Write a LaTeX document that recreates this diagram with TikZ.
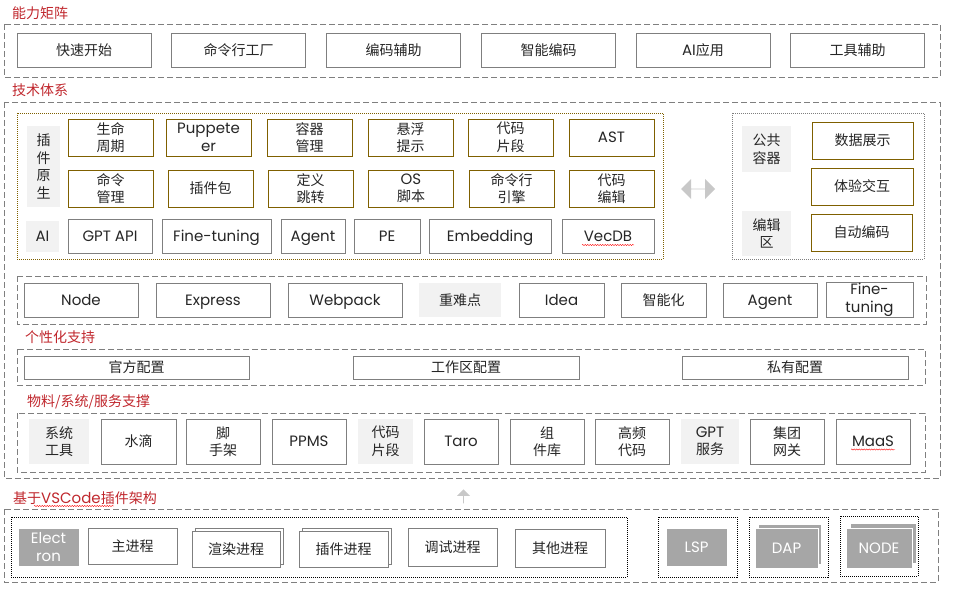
\documentclass[tikz,border=0pt]{standalone}
\usepackage{fontspec}
\setmainfont{Noto Sans CJK SC}
\newfontfamily\enfont{Poppins}
\usetikzlibrary{shapes.arrows,shadows,decorations.pathmorphing}
\definecolor{linegray}{HTML}{7F7F7F}
\definecolor{olivebr}{HTML}{7F6000}
\definecolor{taggray}{HTML}{F2F2F2}
\definecolor{darkfill}{HTML}{A6A6A6}
\definecolor{arrowgray}{HTML}{C8C8C8}
\definecolor{titlered}{HTML}{C0272D}
\definecolor{textblack}{HTML}{262626}
\newcommand\boxsize{\fontsize{14}{17.5}\selectfont}
\newcommand\ensize{\fontsize{15}{17.5}\selectfont}
\newcommand\en[1]{{\enfont\ensize #1}}
\tikzset{
  secframe/.style={draw=linegray,line width=0.8pt,dash pattern=on 6pt off 3pt},
  olframe/.style={draw=olivebr,line width=0.6pt,dash pattern=on 1pt off 1pt},
  gyframe/.style={draw=linegray,line width=0.6pt,dash pattern=on 1pt off 1pt},
  bkframe/.style={draw=black,line width=0.6pt,dash pattern=on 1pt off 1pt},
  sectitle/.style={anchor=west,inner sep=0pt,text=titlered,font=\boxsize},
  techbox/.style={draw=linegray,line width=0.8pt,fill=white,inner sep=1pt,
    align=center,text=textblack,font=\boxsize},
  en/.style={font=\enfont\ensize},
  enone/.style={en,text height=10.5pt,text depth=0pt},
  capbox/.style={techbox,minimum width=134pt,minimum height=34pt},
  olbox/.style={techbox,draw=olivebr,minimum width=85pt,minimum height=37pt},
  grbox/.style={techbox,minimum height=34pt},
  tag/.style={fill=taggray,inner sep=1pt,align=center,text=textblack,font=\boxsize},
  darkbox/.style={fill=darkfill,draw=white,line width=0.8pt,inner sep=1pt,
    align=center,text=white,font=\enfont\ensize},
  stackbox/.style={copy shadow={shadow xshift=3pt,shadow yshift=3pt}},
  spell/.style={draw=red,line width=0.4pt,decorate,
    decoration={snake,amplitude=0.6pt,segment length=2.5pt}},
}
\begin{document}
\begin{tikzpicture}[x=1pt,y=-1pt]
  \useasboundingbox (0,0) rectangle (955,591);

  % 能力矩阵
  \node[sectitle] (tcap) at (12,13) {能力矩阵};
  \draw[secframe] (4,24) rectangle (940,77);
  \node[capbox] (ksks) at (84,50) {快速开始};
  \node[capbox] (mlgc) at (238.5,50) {命令行工厂};
  \node[capbox] (bmfz) at (393.5,50) {编码辅助};
  \node[capbox] (znbm) at (548.5,50) {智能编码};
  \node[capbox] (aiyy) at (703,50) {\en{AI}应用};
  \node[capbox] (gjfz) at (857.5,50) {工具辅助};

  % 技术体系
  \node[sectitle] (ttech) at (12,90) {技术体系};
  \draw[secframe] (4,102) rectangle (940,478);
  \draw[olframe] (17,113) rectangle (663,259);
  \node[tag,minimum width=33pt,minimum height=81pt] (cjys) at (43.5,166.5) {插\\件\\原\\生};
  \node[olbox] (smzq) at (110.5,137.5) {生命\\周期};
  \node[olbox,en] (pupp) at (208.5,137.5) {Puppete\\er};
  \node[olbox] (rqgl) at (309.5,137.5) {容器\\管理};
  \node[olbox] (xfts) at (410.5,137.5) {悬浮\\提示};
  \node[olbox] (dmpd) at (510.5,137.5) {代码\\片段};
  \node[olbox,enone] (ast) at (611.5,137.5) {AST};
  \node[olbox] (mlgl) at (110.5,188.5) {命令\\管理};
  \node[olbox] (cjb) at (210.5,188.5) {插件包};
  \node[olbox] (dytz) at (310.5,188.5) {定义\\跳转};
  \node[olbox] (osjb) at (411,188.5) {\en{OS}\\脚本};
  \node[olbox] (mlyq) at (511.5,188.5) {命令行\\引擎};
  \node[olbox] (dmbj) at (611.5,188.5) {代码\\编辑};
  \node[tag,enone,minimum width=33pt,minimum height=31pt] (ai) at (42.5,236.5) {AI};
  \node[grbox,enone,minimum width=84pt] (gpt) at (110,236) {GPT API};
  \node[grbox,enone,minimum width=109pt] (ftun) at (216.5,236) {Fine-tuning};
  \node[grbox,enone,minimum width=64pt] (agent) at (313,236) {Agent};
  \node[grbox,enone,minimum width=66pt] (pe) at (387,236) {PE};
  \node[grbox,enone,minimum width=122pt] (emb) at (490,236) {Embedding};
  \node[grbox,enone,minimum width=92pt] (vec) at (608,236) {VecDB};
  \draw[spell] ([xshift=-26pt,yshift=-9pt]vec.center) -- ([xshift=26pt,yshift=-9pt]vec.center);

  \node[double arrow,fill=arrowgray,minimum height=34pt,minimum width=20pt,
    inner sep=0pt,double arrow head extend=5pt] (swap) at (698,189) {};

  \draw[gyframe] (732,113) rectangle (924,259);
  \node[tag,minimum width=49pt,minimum height=46pt] (ggrq) at (766.5,149) {公共\\容器};
  \node[tag,minimum width=49pt,minimum height=45pt] (bjq) at (766.5,233.5) {编辑\\区};
  \node[olbox,minimum width=101pt] (sjzs) at (862.5,140.5) {数据展示};
  \node[olbox,minimum width=102pt] (tyjh) at (862,186.5) {体验交互};
  \node[olbox,minimum width=101pt] (zdbm) at (861.5,232.5) {自动编码};

  \draw[secframe] (17,276) rectangle (926,324);
  \node[grbox,enone,minimum width=114pt] (node) at (81,300) {Node};
  \node[grbox,enone,minimum width=114pt] (expr) at (213,300) {Express};
  \node[grbox,enone,minimum width=114pt] (wpk) at (345,300) {Webpack};
  \node[tag,minimum width=82pt,minimum height=34pt] (zndd) at (460,300) {重难点};
  \node[grbox,enone,minimum width=85pt] (idea) at (561.5,300) {Idea};
  \node[grbox,minimum width=85pt] (znh) at (663.5,300) {智能化};
  \node[grbox,enone,minimum width=94pt] (agt2) at (770,300) {Agent};
  \node[grbox,en,minimum width=87pt] (ftn2) at (869.5,300) {Fine-\\tuning};

  % 个性化支持
  \node[sectitle] (tpers) at (25,337) {个性化支持};
  \draw[secframe] (17,349) rectangle (925,385);
  \node[techbox,minimum width=225pt,minimum height=23pt] (gfpz) at (136.5,367.5) {官方配置};
  \node[techbox,minimum width=226pt,minimum height=23pt] (gzpz) at (466,367.5) {工作区配置};
  \node[techbox,minimum width=226pt,minimum height=23pt] (sypz) at (795,367.5) {私有配置};

  % 物料/系统/服务支撑
  \node[sectitle] (tmat) at (27,402) {物料/系统/服务支撑};
  \draw[secframe] (17,413) rectangle (925,472);
  \node[tag,minimum width=60pt,minimum height=45pt] (xtgj) at (59,441.5) {系统\\工具};
  \node[grbox,minimum width=75pt,minimum height=45pt] (sd) at (138.5,441.5) {水滴};
  \node[grbox,minimum width=74pt,minimum height=45pt] (jsj) at (223,441.5) {脚\\手架};
  \node[grbox,enone,minimum width=74pt,minimum height=45pt] (ppms) at (309,441.5) {PPMS};
  \node[tag,minimum width=55pt,minimum height=45pt] (dmpd2) at (385.5,441.5) {代码\\片段};
  \node[grbox,enone,minimum width=74pt,minimum height=45pt] (taro) at (461,441.5) {Taro};
  \node[grbox,minimum width=74pt,minimum height=45pt] (zjk) at (547,441.5) {组\\件库};
  \node[grbox,minimum width=74pt,minimum height=45pt] (gpdm) at (632,441.5) {高频\\代码};
  \node[tag,minimum width=58pt,minimum height=45pt] (gptfw) at (710,441.5) {\en{GPT}\\服务};
  \node[grbox,minimum width=74pt,minimum height=45pt] (jtwg) at (787,441.5) {集团\\网关};
  \node[grbox,enone,minimum width=74pt,minimum height=45pt] (maas) at (873,441.5) {MaaS};
  \draw[spell] ([xshift=-22pt,yshift=-8pt]maas.center) -- ([xshift=22pt,yshift=-8pt]maas.center);

  \node[single arrow,shape border rotate=90,fill=arrowgray,minimum height=14pt,
    minimum width=13pt,inner sep=0pt,single arrow head extend=3pt] (up) at (463.5,496.5) {};

  % 基于VSCode插件架构
  \node[sectitle] (tbase) at (13,498) {基于\en{VSCode}插件架构};
  \draw[spell] (34,506) -- (114,506);
  \draw[secframe] (4,509) rectangle (938,582);
  \draw[bkframe] (11,517) rectangle (627,577);
  \node[darkbox,minimum width=61pt,minimum height=38pt] (elec) at (48.5,547) {Elect\\ron};
  \node[techbox,minimum width=89pt,minimum height=36pt] (zjc) at (132.5,546) {主进程};
  \node[techbox,stackbox,minimum width=88pt,minimum height=36pt] (xrjc) at (236,549) {渲染进程};
  \node[techbox,stackbox,minimum width=89pt,minimum height=36pt] (cjjc) at (343.5,549) {插件进程};
  \node[techbox,minimum width=89pt,minimum height=38pt] (tsjc) at (452.5,547) {调试进程};
  \node[techbox,minimum width=90pt,minimum height=38pt] (qtjc) at (560,548) {其他进程};

  \draw[bkframe] (658,517) rectangle (737,577);
  \node[darkbox,text height=10.5pt,text depth=0pt,minimum width=61pt,minimum height=38pt] (lsp) at (696.5,547) {LSP};
  \draw[bkframe] (749,517) rectangle (828,577);
  \node[darkbox,text height=10.5pt,text depth=0pt,copy shadow={shadow xshift=3pt,shadow yshift=4pt},
    minimum width=63pt,minimum height=40pt] (dap) at (786.5,548) {DAP};
  \draw[bkframe] (840,516) rectangle (918,576);
  \node[darkbox,text height=10.5pt,text depth=0pt,copy shadow={shadow xshift=4pt,shadow yshift=5pt},
    minimum width=66pt,minimum height=40pt] (nd) at (879,548) {NODE};
\end{tikzpicture}
\end{document}
